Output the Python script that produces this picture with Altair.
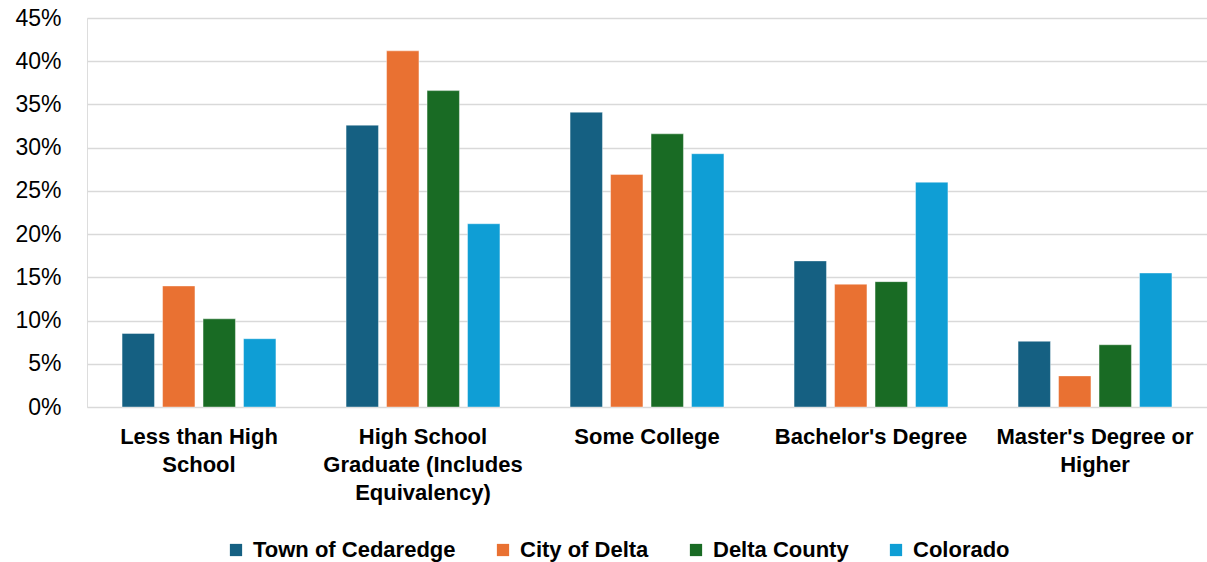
import json
import altair as alt
import pandas as pd

# Educational attainment shares (%) by geography
categories = [
    "Less than High School",
    "High School Graduate (Includes Equivalency)",
    "Some College",
    "Bachelor's Degree",
    "Master's Degree or Higher",
]
category_lines = [
    ["Less than High", "School"],
    ["High School", "Graduate (Includes", "Equivalency)"],
    ["Some College"],
    ["Bachelor's Degree"],
    ["Master's Degree or", "Higher"],
]
series = ["Town of Cedaredge", "City of Delta", "Delta County", "Colorado"]
colors = ["#156082", "#E97132", "#196B24", "#0F9ED5"]

cedaredge = [8.5, 32.6, 34.1, 16.9, 7.6]
city_of_delta = [14.0, 41.2, 26.9, 14.2, 3.6]
delta_county = [10.2, 36.6, 31.6, 14.5, 7.2]
colorado = [7.9, 21.2, 29.3, 26.0, 15.5]

values = [cedaredge, city_of_delta, delta_county, colorado]
rows = []
for name, vals in zip(series, values):
    for cat, v in zip(categories, vals):
        rows.append({"Education": cat, "Area": name, "Share": v / 100})
df = pd.DataFrame(rows)

# Multi-line category labels
label_expr = ""
for cat, lines in zip(categories, category_lines):
    label_expr += f"datum.value == {json.dumps(cat)} ? {json.dumps(lines)} : "
label_expr += "datum.value"

font = "Liberation Sans"

chart = (
    alt.Chart(df)
    .mark_bar(stroke="white", strokeWidth=0.8, strokeOpacity=0.5)
    .encode(
        x=alt.X(
            "Education:N",
            sort=categories,
            title=None,
            scale=alt.Scale(paddingInner=0.277, paddingOuter=0.1385),
            axis=alt.Axis(
                labelExpr=label_expr,
                labelAngle=0,
                labelFont=font,
                labelFontSize=22,
                labelFontWeight="bold",
                labelColor="#000000",
                labelLineHeight=28,
                labelPadding=19,
                labelBaseline="top",
                labelLimit=0,
                ticks=False,
                domain=False,
                grid=False,
            ),
        ),
        xOffset=alt.XOffset(
            "Area:N",
            sort=series,
            scale=alt.Scale(paddingInner=0.2, paddingOuter=0.1),
        ),
        y=alt.Y(
            "Share:Q",
            title=None,
            scale=alt.Scale(domain=[0, 0.45], nice=False),
            axis=alt.Axis(
                format=".0%",
                values=[i * 0.05 for i in range(10)],
                labelFont=font,
                labelFontSize=23,
                labelColor="#000000",
                labelPadding=26,
                ticks=False,
                domain=False,
                gridColor="#d9d9d9",
                gridWidth=1.5,
            ),
        ),
        color=alt.Color(
            "Area:N",
            sort=series,
            scale=alt.Scale(domain=series, range=colors),
            legend=alt.Legend(
                title=None,
                orient="none",
                direction="horizontal",
                legendX=138,
                legendY=521,
                symbolType="square",
                symbolSize=150,
                symbolStrokeWidth=0,
                labelFont=font,
                labelFontSize=22,
                labelFontWeight="bold",
                labelColor="#000000",
                labelLimit=0,
                labelOffset=6,
                columnPadding=36,
            ),
        ),
    )
    .properties(
        width=1120,
        height=389,
        autosize=alt.AutoSizeParams(type="none"),
        padding={"left": 87, "top": 18, "right": 0, "bottom": 155},
    )
    .configure_view(stroke=None)
    .configure(background="white")
)

chart.save("out.html", embed_options={"renderer": "svg", "actions": False})
